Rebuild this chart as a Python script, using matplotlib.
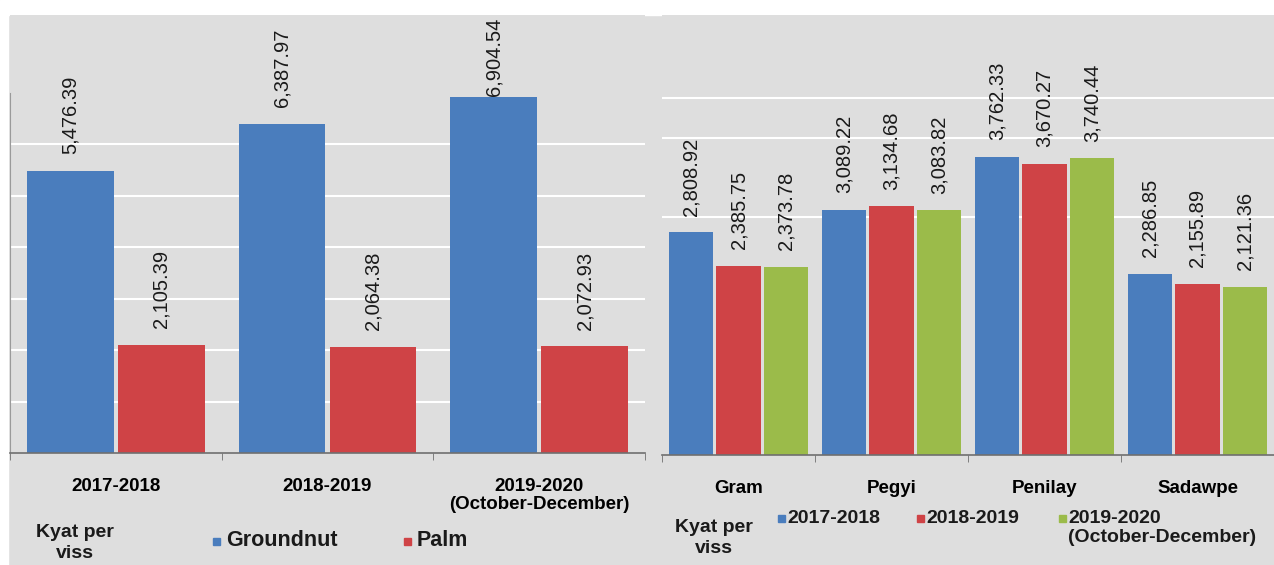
import matplotlib
matplotlib.use("Agg")
import matplotlib.pyplot as plt
from matplotlib.patches import Rectangle
import numpy as np

plt.rcParams["font.family"] = ["Liberation Sans", "DejaVu Sans"]

# left panel: groundnut vs palm oil
periods = ["2017-2018", "2018-2019", "2019-2020\n(October-December)"]
groundnut = [5476.39, 6387.97, 6904.54]
palm = [2105.39, 2064.38, 2072.93]

# right panel: pulses
pulses = ["Gram", "Pegyi", "Penilay", "Sadawpe"]
y2017 = [2808.92, 3089.22, 3762.33, 2286.85]
y2018 = [2385.75, 3134.68, 3670.27, 2155.89]
y2019 = [2373.78, 3083.82, 3740.44, 2121.36]
year_labels = ["2017-2018", "2018-2019", "2019-2020\n(October-December)"]

BLUE = "#4a7dbd"
RED = "#cf4346"
GREEN = "#9bbb4a"
BG = "#dedede"
W, H = 1274, 565


def px(x, y):
    return x / W, 1 - y / H


def box(x0, y0, x1, y1):
    return [x0 / W, 1 - y1 / H, (x1 - x0) / W, (y1 - y0) / H]


def style_axes(ax, n, grid):
    ax.set_facecolor(BG)
    for s in ["top", "right"]:
        ax.spines[s].set_visible(False)
    ax.spines["left"].set_color("#9a9a9a")
    ax.spines["left"].set_bounds(0, 7000)
    ax.spines["bottom"].set_color("#6f6f6f")
    ax.spines["bottom"].set_linewidth(1.2)
    ax.set_xlim(-0.5, n - 0.5)
    ax.set_yticks(grid)
    ax.tick_params(axis="y", left=False, labelleft=False)
    ax.grid(axis="y", color="white", linewidth=1.5)
    ax.set_axisbelow(True)
    ax.set_xticks(np.arange(n))
    ax.set_xticks(np.arange(n + 1) - 0.5, minor=True)
    ax.tick_params(axis="x", which="major", length=0, pad=18)
    ax.tick_params(axis="x", which="minor", length=5, color="#6f6f6f")


def value_labels(ax, bars, vals, top=None):
    for b, v in zip(bars, vals):
        # the tallest label is pulled down onto the bar so it stays in the frame
        off = 1 if top is not None and v > top else 12
        ax.annotate(f"{v:,.2f}", (b.get_x() + b.get_width() / 2, b.get_height()),
                    xytext=(0, off), textcoords="offset points", rotation=90,
                    ha="center", va="bottom", fontsize=14.5, color="#1a1a1a",
                    annotation_clip=False)


fig = plt.figure(figsize=(W / 100, H / 100), dpi=100)
fig.patch.set_facecolor(BG)
fig.patches.append(Rectangle((0, 1 - 15 / H), 1, 15 / H, transform=fig.transFigure,
                             color="white", zorder=-5))
fig.patches.append(Rectangle((0, 0), 8 / W, 1, transform=fig.transFigure,
                             color="white", zorder=-5))

# ---- left chart
ax1 = fig.add_axes(box(10, 15, 645, 453))
x = np.arange(len(periods))
style_axes(ax1, len(periods), [1000, 2000, 3000, 4000, 5000, 6000])
ax1.set_ylim(0, 438 / 51.5 * 1000)
b1 = ax1.bar(x - 0.215, groundnut, 0.41, color=BLUE)
b2 = ax1.bar(x + 0.215, palm, 0.41, color=RED)
value_labels(ax1, b1, groundnut, top=6500)
value_labels(ax1, b2, palm)
ax1.set_xticklabels(periods, fontsize=13.5, fontweight="bold", linespacing=1.1)

# ---- right chart
ax2 = fig.add_axes(box(662, 15, 1274, 455))
x2 = np.arange(len(pulses))
style_axes(ax2, len(pulses), [3000, 4000, 4500])
ax2.spines["left"].set_visible(False)
ax2.set_ylim(0, 440 / 79.3 * 1000)
w = 0.29
series = [(y2017, BLUE), (y2018, RED), (y2019, GREEN)]
for i, (vals, col) in enumerate(series):
    bars = ax2.bar(x2 + (i - 1) * 0.31, vals, w, color=col)
    value_labels(ax2, bars, vals)
ax2.set_xticklabels(pulses, fontsize=13.5, fontweight="bold")

# ---- legends (drawn by hand to follow the original layout)
lab = dict(fontsize=14, fontweight="bold", color="#1a1a1a")
fig.text(*px(75, 543), "Kyat per\nviss", ha="center", va="center",
         multialignment="center", linespacing=1.25, **lab)
fig.text(*px(714, 538), "Kyat per\nviss", ha="center", va="center",
         multialignment="center", linespacing=1.25, **lab)


def marker(xc, yc, col):
    fig.patches.append(Rectangle(px(xc - 3.5, yc + 3.5), 7 / W, 7 / H,
                                 transform=fig.transFigure, color=col))


for xc, name, col in [(216, "Groundnut", BLUE), (407, "Palm", RED)]:
    marker(xc, 541, col)
    fig.text(*px(xc + 10, 541), name, ha="left", va="center", fontsize=15.5,
             fontweight="bold", color="#1a1a1a")

for xc, name, col in zip([781, 920, 1062], year_labels, [BLUE, RED, GREEN]):
    marker(xc, 518, col)
    fig.text(*px(xc + 6, 510), name, ha="left", va="top", linespacing=1.15, **lab)

fig.savefig("out.png", dpi=100, facecolor=fig.get_facecolor())
